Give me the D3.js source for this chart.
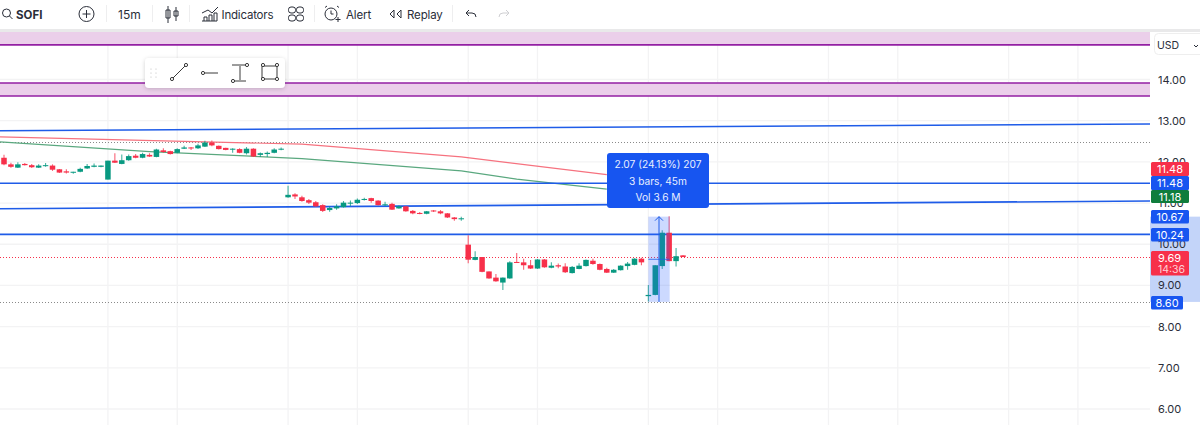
<!DOCTYPE html>
<html><head><meta charset="utf-8"><script src="https://cdn.jsdelivr.net/npm/d3@7"></script>
<style>html,body{margin:0;padding:0;background:#fff;overflow:hidden}svg{display:block;font-family:Inter,"Noto Sans",sans-serif}</style></head>
<body><svg id="c" width="1200" height="425"></svg>
<script>
const opens=[12.10,11.94,11.86,11.95,11.92,11.86,11.90,11.91,11.82,11.77,11.74,11.76,11.84,11.88,11.88,11.57,12.03,11.95,12.04,12.15,12.10,12.17,12.12,12.28,12.26,12.22,12.32,12.35,12.33,12.37,12.47,12.39,12.34,12.30,12.31,12.21,12.32,12.17,12.19,12.22,12.30,
11.14,11.21,11.14,11.07,11.02,10.95,10.83,10.87,10.90,11.00,11.00,11.09,11.12,11.06,10.95,10.98,10.87,10.92,10.81,10.76,10.74,10.82,10.80,10.75,10.65,10.62,
9.99,9.62,9.69,9.34,9.19,9.07,9.17,9.57,9.56,9.49,9.41,9.63,9.43,9.49,9.46,9.30,9.40,9.47,9.60,9.52,9.40,9.31,9.37,9.47,9.50,9.65,
8.74,8.77,9.47,10.28,9.59,9.73];
const closes=[11.94,11.88,11.94,11.92,11.87,11.91,11.92,11.81,11.74,11.74,11.76,11.83,11.90,11.91,11.91,12.03,11.98,12.04,12.14,12.10,12.19,12.13,12.30,12.24,12.19,12.31,12.35,12.33,12.40,12.47,12.40,12.31,12.29,12.32,12.22,12.32,12.13,12.21,12.22,12.30,12.32,
11.20,11.16,11.05,11.01,10.92,10.81,10.88,10.92,11.01,11.01,11.08,11.10,11.05,10.95,10.97,10.84,10.92,10.80,10.75,10.75,10.80,10.80,10.75,10.65,10.61,10.63,
9.625,9.69,9.33,9.17,9.10,9.19,9.56,9.56,9.49,9.41,9.63,9.44,9.48,9.46,9.32,9.45,9.48,9.62,9.52,9.38,9.31,9.38,9.48,9.53,9.65,9.56,
8.77,9.49,10.28,9.59,9.71,9.69];
const highs=[12.17,11.98,11.99,11.97,11.95,11.94,11.97,11.94,11.83,11.82,11.76,11.86,11.95,11.96,11.91,12.03,12.21,12.18,12.18,12.19,12.22,12.21,12.32,12.33,12.27,12.33,12.39,12.36,12.44,12.51,12.52,12.40,12.34,12.33,12.33,12.36,12.33,12.23,12.25,12.33,12.35,
11.42,11.24,11.18,11.10,11.05,10.97,10.92,10.97,11.05,11.06,11.11,11.13,11.13,11.07,11.03,11.01,10.94,10.93,10.83,10.78,10.81,10.83,10.83,10.76,10.66,10.67,
10.22,9.83,9.69,9.34,9.28,9.19,9.59,9.79,9.65,9.62,9.64,9.64,9.56,9.53,9.54,9.47,9.54,9.63,9.65,9.53,9.43,9.40,9.49,9.57,9.66,9.67,
9.01,9.49,10.34,10.68,9.91,9.73];
const lows=[11.92,11.86,11.85,11.91,11.85,11.85,11.88,11.78,11.73,11.72,11.71,11.75,11.83,11.87,11.87,11.57,11.97,11.94,12.03,12.09,12.09,12.12,12.11,12.22,12.18,12.21,12.31,12.29,12.31,12.36,12.38,12.30,12.28,12.22,12.21,12.18,12.12,12.12,12.12,12.21,12.28,
11.13,11.10,11.03,10.98,10.91,10.78,10.79,10.84,10.89,10.93,10.98,11.06,11.01,10.94,10.93,10.83,10.86,10.79,10.73,10.73,10.73,10.78,10.73,10.64,10.57,10.57,
9.54,9.61,9.32,9.16,9.09,8.89,9.16,9.55,9.38,9.40,9.40,9.43,9.42,9.42,9.30,9.29,9.39,9.46,9.50,9.37,9.30,9.30,9.36,9.38,9.49,9.49,
8.61,8.76,9.40,9.59,9.46,9.69];
const priceTicks=[14,13,12,11,10,9,8,7,6];
const gridBars=[15,25,41,51,67,77,93,103,119,129,145,155];
const redMaBars=[-1,43,66,87];
const redMaValues=[12.61,12.43,12.12,11.69];
const greenMaBars=[-1,21,43,66,74,87];
const greenMaValues=[12.49,12.25,12.08,11.78,11.58,11.34];
const trendBars=[-1,166];
const trendA=[12.757,12.92];
const trendC=[10.86,11.05];
const levelBlue=[11.48,10.24];
const levelDotted=[12.49,8.60];
const lastPrice=9.69;
const purpleLines=[14.84,13.915,13.60];
const measureFrom=8.60, measureTo=10.67, measureBars=[93,96];

const svg=d3.select("#c");
const x=d3.scaleLinear().domain([0,98]).range([4,683]);
const y=d3.scaleLinear().domain([14,6]).range([79.5,409]);
const W=1150,TOP=32;
const UP="#089981",DN="#f7304a",BLUE="#1f5ce8",PURPLE="#931fa3";

const defs=svg.append("defs");
defs.append("clipPath").attr("id","plot").append("rect").attr("x",0).attr("y",TOP).attr("width",W).attr("height",425-TOP);
const f=defs.append("filter").attr("id","sh").attr("x","-10%").attr("y","-20%").attr("width","120%").attr("height","150%");
f.append("feDropShadow").attr("dx",0).attr("dy",1).attr("stdDeviation",2).attr("flood-color","#000").attr("flood-opacity",.18);

const plot=svg.append("g").attr("clip-path","url(#plot)");
// grid
plot.append("g").selectAll("line").data(priceTicks).join("line").attr("x1",0).attr("x2",W)
 .attr("y1",d=>y(d)).attr("y2",d=>y(d)).attr("stroke","#f3f3f4").attr("stroke-width",1.3);
plot.append("g").selectAll("line").data(gridBars).join("line").attr("y1",TOP).attr("y2",425)
 .attr("x1",d=>x(d)).attr("x2",d=>x(d)).attr("stroke","#f3f3f4").attr("stroke-width",1.3);
// purple bands
plot.append("rect").attr("x",0).attr("width",W).attr("y",TOP).attr("height",y(purpleLines[0])-TOP).attr("fill","#ebcfea");
plot.append("rect").attr("x",0).attr("width",W).attr("y",y(purpleLines[1])).attr("height",y(purpleLines[2])-y(purpleLines[1])).attr("fill","#ebcfea");
plot.append("g").selectAll("line").data(purpleLines).join("line").attr("x1",0).attr("x2",W).attr("y1",d=>y(d)).attr("y2",d=>y(d)).attr("stroke",PURPLE).attr("stroke-width",1.6);
// dotted
plot.append("g").selectAll("line").data(levelDotted).join("line").attr("x1",0).attr("x2",W).attr("y1",d=>Math.round(y(d))+.5).attr("y2",d=>Math.round(y(d))+.5).attr("stroke","#8a8a8a").attr("stroke-dasharray","1 2");
plot.append("line").attr("x1",0).attr("x2",W).attr("y1",Math.round(y(lastPrice))+.5).attr("y2",Math.round(y(lastPrice))+.5).attr("stroke",DN).attr("stroke-dasharray","1 2");
// MAs
const ln=d3.line().x(d=>x(d[0])).y(d=>y(d[1]));
plot.append("path").attr("d",ln(d3.zip(redMaBars,redMaValues))).attr("fill","none").attr("stroke","#f6727f").attr("stroke-width",1.2);
plot.append("path").attr("d",ln(d3.zip(greenMaBars,greenMaValues))).attr("fill","none").attr("stroke","#5aa87f").attr("stroke-width",1.2);
// blue lines
[trendA,trendC].forEach(v=>plot.append("path").attr("d",ln(d3.zip(trendBars,v))).attr("fill","none").attr("stroke",BLUE).attr("stroke-width",1.6));
plot.append("g").selectAll("line").data(levelBlue).join("line").attr("x1",0).attr("x2",W).attr("y1",d=>y(d)).attr("y2",d=>y(d)).attr("stroke",BLUE).attr("stroke-width",1.6);
// candles
const bars=d3.range(opens.length);
const col=i=>closes[i]>=opens[i]?UP:DN;
const cg=plot.append("g");
cg.selectAll("line").data(bars).join("line").attr("x1",i=>x(i)).attr("x2",i=>x(i))
 .attr("y1",i=>y(highs[i])).attr("y2",i=>y(lows[i])).attr("stroke",col).attr("stroke-width",1.1).attr("stroke-opacity",.75);
cg.selectAll("rect").data(bars).join("rect").attr("x",i=>x(i)-2.75).attr("width",5.5)
 .attr("y",i=>y(Math.max(opens[i],closes[i]))).attr("height",i=>Math.max(1,Math.abs(y(opens[i])-y(closes[i])))).attr("fill",col);
// measure
const mx0=x(measureBars[0]),mx1=x(measureBars[1])+.5,my0=y(measureTo),my1=y(measureFrom);
plot.append("rect").attr("x",mx0).attr("y",my0).attr("width",mx1-mx0).attr("height",my1-my0).attr("fill","#2962ff").attr("fill-opacity",.24);
const mc=(mx0+mx1)/2;
plot.append("path").attr("d",`M${mc},${my1}V${my0}M${mc-4},${my0+4}L${mc},${my0}L${mc+4},${my0+4}`).attr("fill","none").attr("stroke",BLUE).attr("stroke-width",1);
plot.append("line").attr("x1",mx0).attr("x2",mx1).attr("y1",y((measureFrom+measureTo)/2)).attr("y2",y((measureFrom+measureTo)/2)).attr("stroke",BLUE).attr("stroke-opacity",.8);
// tooltip
const tt=svg.append("g");
tt.append("rect").attr("x",607).attr("y",153).attr("width",102).attr("height",55).attr("rx",3).attr("fill","#1755f0");
["2.07 (24.13%) 207","3 bars, 45m","Vol 3.6 M"].forEach((t,i)=>tt.append("text").attr("x",658).attr("y",168+i*16.5).attr("text-anchor","middle").attr("font-size",10.2).attr("fill","#e8eeff").text(t));
// right axis
const ax=svg.append("g");
ax.append("rect").attr("x",W).attr("y",TOP).attr("width",50).attr("height",393).attr("fill","#fff");
ax.append("rect").attr("x",W).attr("y",my0).attr("width",50).attr("height",my1-my0).attr("fill","#c3d4f9");
const axis=ax.append("g").attr("transform",`translate(${W+8},0)`).call(d3.axisRight(y).tickValues(priceTicks).tickFormat(d3.format(".2f")).tickSize(0).tickPadding(0));
axis.select(".domain").remove();
axis.selectAll("text").attr("font-size",11).attr("font-family","Inter,'Noto Sans',sans-serif").attr("fill","#2a2e39");
const tags=[["11.48",162,14,DN,38],["11.48",176,14,"#1755f0",38],["11.18",190,13,"#0f7d3c",38],["10.67",210,13.5,"#1755f0",38],["10.24",228,13.5,"#1755f0",38],["8.60",296,13.5,"#1755f0",32]];
tags.forEach(([t,ty,h,c,w])=>{ax.append("rect").attr("x",W+1).attr("y",ty).attr("width",w).attr("height",h).attr("rx",1.5).attr("fill",c);
 ax.append("text").attr("x",W+1+w/2).attr("y",ty+h/2+4).attr("text-anchor","middle").attr("font-size",11).attr("fill","#fff").text(t);});
ax.append("rect").attr("x",W+1).attr("y",251).attr("width",38).attr("height",24.5).attr("rx",1.5).attr("fill",DN);
ax.append("text").attr("x",W+8).attr("y",262).attr("font-size",11).attr("fill","#fff").text("9.69");
ax.append("text").attr("x",W+8).attr("y",273).attr("font-size",10.5).attr("fill","#ffd0d5").text("14:36");
ax.append("rect").attr("x",1154.5).attr("y",33.5).attr("width",50).attr("height",21).attr("rx",4).attr("fill","#fff").attr("stroke","#eeeeee");
ax.append("text").attr("x",1157).attr("y",49).attr("font-size",10.5).attr("fill","#2a2e39").text("USD");
ax.append("path").attr("d","M1194,45l2,2l2,-2").attr("fill","none").attr("stroke","#2a2e39");
// floating toolbar
const ft=svg.append("g").attr("fill","none").attr("stroke","#3a3a3a");
ft.append("rect").attr("x",145).attr("y",58).attr("width",140).attr("height",30).attr("rx",4).attr("fill","#fff").attr("stroke","none").attr("filter","url(#sh)");
[[151,69],[156,69],[151,73],[156,73],[151,77],[156,77]].forEach(p=>ft.append("circle").attr("cx",p[0]).attr("cy",p[1]).attr("r",.6).attr("fill","#bbb").attr("stroke","none"));
const dot=(a,b)=>ft.append("circle").attr("cx",a).attr("cy",b).attr("r",1.6).attr("fill","#fff");
ft.append("path").attr("d","M172,79L185,66M203,73H218M232,65H246M240,66V80M232,81H246M262,66H277V79H262Z");
[[172,79],[186,65],[203,73],[247,65],[233,81],[263,65],[277,65],[263,79],[277,79]].forEach(p=>dot(p[0],p[1]));
// top toolbar
const tb=svg.append("g");
tb.append("rect").attr("x",0).attr("y",0).attr("width",1200).attr("height",29).attr("fill","#fff");
tb.append("rect").attr("x",0).attr("y",29).attr("width",1200).attr("height",3).attr("fill","#e9e9ea");
const T=(s,xx,w,fs,ls)=>tb.append("text").attr("x",xx).attr("y",18.5).attr("font-size",fs||11.5).attr("letter-spacing",ls||0).attr("font-weight",w||400).attr("fill","#2a2e39").text(s);
T("SOFI",16,700,11.5);T("15m",118,400,12);T("Indicators",221.5,400,11.5,-.2);T("Alert",346,400,11.5,-.1);T("Replay",407,400,11.5,-.15);
const ic=tb.append("g").attr("fill","none").attr("stroke","#2a2e39").attr("stroke-width",1);
ic.append("circle").attr("cx",6.5).attr("cy",13).attr("r",4);
ic.append("path").attr("d","M9.5,16L12.5,19");
ic.append("circle").attr("cx",86.5).attr("cy",14).attr("r",7.5);
ic.append("path").attr("d","M82.5,14H90.5M86.5,10V18");
ic.append("path").attr("d","M168,6V23M166,10h4v8h-4zM176,7V21M174,11h4v5h-4z");
ic.append("path").attr("d","M202,13l6,-3l4,3l6,-6M202,21h15M204,21v-4h3v4M209,21v-6h3v6M214,21v-8h3v8");
[[292,10],[300,10],[292,18],[300,18]].forEach(p=>ic.append("rect").attr("x",p[0]-3.5).attr("y",p[1]-3).attr("width",7).attr("height",6).attr("rx",2.5));
ic.append("circle").attr("cx",331).attr("cy",14).attr("r",6);
ic.append("path").attr("d","M331,10.5V14L333.5,14M325,7.5l2,-1.5M337,6l2,1.5M338,17v5M335.5,19.5h5");
ic.append("path").attr("d","M394,10l-4,4l4,4zM401,10l-4,4l4,4z");
ic.append("path").attr("d","M469,10l-3,3l3,3M466,13h6a4,4 0 0 1 4,4");
tb.append("path").attr("d","M506,10l3,3l-3,3M509,13h-6a4,4 0 0 0 -4,4").attr("fill","none").attr("stroke","#cfcfd2");
[106,152,189,314,452].forEach(v=>tb.append("line").attr("x1",v+.5).attr("x2",v+.5).attr("y1",5).attr("y2",22).attr("stroke","#eeeeef"));
</script></body></html>
